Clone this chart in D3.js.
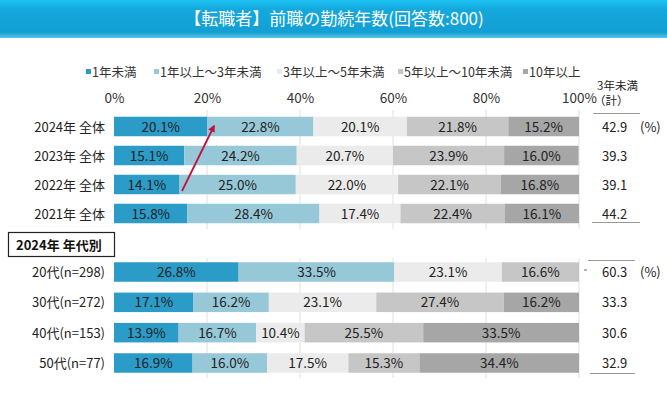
<!DOCTYPE html>
<html>
<head>
<meta charset="utf-8">
<script src="https://cdn.jsdelivr.net/npm/d3@7"></script>
<style>
  body { margin: 0; background: #fff; }
  svg { display: block; font-family: "Noto Sans CJK JP", "Noto Sans", sans-serif; }
</style>
</head>
<body>
<svg width="667" height="394"></svg>
<script>
const title = "【転職者】前職の勤続年数(回答数:800)";
const seriesNames = ["1年未満", "1年以上～3年未満", "3年以上～5年未満", "5年以上～10年未満", "10年以上"];
const colors = ["#2b9bc8", "#97c8d8", "#ebebeb", "#c6c6c6", "#a6a6a6"];

const yearRows = ["2024年 全体", "2023年 全体", "2022年 全体", "2021年 全体"];
const yearValues = [
  [20.1, 22.8, 20.1, 21.8, 15.2],
  [15.1, 24.2, 20.7, 23.9, 16.0],
  [14.1, 25.0, 22.0, 22.1, 16.8],
  [15.8, 28.4, 17.4, 22.4, 16.1]
];
const yearTotals = ["42.9", "39.3", "39.1", "44.2"];

const ageRows = ["20代(n=298)", "30代(n=272)", "40代(n=153)", "50代(n=77)"];
const ageValues = [
  [26.8, 33.5, 23.1, 16.6, 0],
  [17.1, 16.2, 23.1, 27.4, 16.2],
  [13.9, 16.7, 10.4, 25.5, 33.5],
  [16.9, 16.0, 17.5, 15.3, 34.4]
];
const ageTotals = ["60.3", "33.3", "30.6", "32.9"];
const ticks = [0, 20, 40, 60, 80, 100];

const svg = d3.select("svg");

// title band
const defs = svg.append("defs");
const grad = defs.append("linearGradient").attr("id", "band").attr("x1", 0).attr("x2", 0).attr("y1", 0).attr("y2", 1);
grad.append("stop").attr("offset", "0%").attr("stop-color", "#1ec3f3");
grad.append("stop").attr("offset", "25%").attr("stop-color", "#14a8dc");
grad.append("stop").attr("offset", "85%").attr("stop-color", "#139fd3");
grad.append("stop").attr("offset", "100%").attr("stop-color", "#5cc6ea");
svg.append("rect").attr("x", 0).attr("y", 0).attr("width", 667).attr("height", 38).attr("fill", "url(#band)");
svg.append("text").attr("x", 334).attr("y", 25).attr("text-anchor", "middle")
  .attr("fill", "#fff").attr("font-size", 17).text(title);

const x = d3.scaleLinear().domain([0, 100]).range([114, 579]);
const yTop = d3.scalePoint().domain(yearRows).range([126.5, 213.5]);
const yAge = d3.scalePoint().domain(ageRows).range([272, 363]);
const barH = 19.5;

// legend
const legendX = [86, 154, 277, 398, 523];
const lg = svg.append("g").selectAll("g").data(seriesNames).join("g")
  .attr("transform", (d, i) => `translate(${legendX[i]},72)`);
lg.append("rect").attr("x", 0).attr("y", -3).attr("width", 5).attr("height", 5)
  .attr("fill", (d, i) => colors[i]);
lg.append("text").attr("x", 6).attr("y", 4.5).attr("font-size", 12.5).attr("fill", "#333").text(d => d);

// axis labels on top
const axis = d3.axisTop(x).tickValues(ticks).tickFormat(d => d + "%").tickSize(0);
const ax = svg.append("g").attr("transform", "translate(0,106)").call(axis);
ax.select(".domain").remove();
ax.selectAll("text").attr("font-size", 13.5).attr("fill", "#333")
  .attr("font-family", "'Noto Sans CJK JP', sans-serif");

// gridlines
const grid = svg.append("g");
[[110, 229], [258, 378]].forEach(([a, b]) => {
  grid.selectAll(null).data(ticks.slice(1)).join("line")
    .attr("x1", d => x(d)).attr("x2", d => x(d)).attr("y1", a).attr("y2", b)
    .attr("stroke", "#e6dede").attr("stroke-width", 1);
});

function drawGroup(rows, values, y) {
  const g = svg.append("g");
  rows.forEach((row, ri) => {
    const stack = [];
    let acc = 0;
    values[ri].forEach((v, si) => { stack.push({ v, si, x0: acc, x1: acc + v }); acc += v; });
    const rg = g.append("g");
    rg.selectAll("rect").data(stack.filter(s => s.v > 0)).join("rect")
      .attr("x", s => x(s.x0)).attr("width", s => x(Math.min(s.x1, 100)) - x(s.x0))
      .attr("y", y(row) - barH / 2).attr("height", barH)
      .attr("fill", s => colors[s.si]);
    rg.selectAll("text").data(stack.filter(s => s.v > 0)).join("text")
      .attr("x", s => (x(s.x0) + x(Math.min(s.x1, 100))) / 2).attr("y", y(row) + 5)
      .attr("text-anchor", "middle").attr("font-size", 13.5).attr("fill", "#222")
      .text(s => s.v.toFixed(1) + "%");
    g.append("text").attr("x", 105).attr("y", y(row) + 5).attr("text-anchor", "end")
      .attr("font-size", 13).attr("fill", "#222").text(row);
  });
}
drawGroup(yearRows, yearValues, yTop);
drawGroup(ageRows, ageValues, yAge);

// section box
svg.append("rect").attr("x", 8.5).attr("y", 232.5).attr("width", 106).attr("height", 24)
  .attr("fill", "#fff").attr("stroke", "#222").attr("stroke-width", 1.2);
svg.append("text").attr("x", 16).attr("y", 249.5).attr("font-size", 13).attr("font-weight", "bold")
  .attr("fill", "#111").text("2024年 年代別");

// right column totals
const rc = svg.append("g").attr("font-size", 13).attr("fill", "#222");
rc.append("text").attr("x", 597).attr("y", 90).attr("font-size", 11.5).text("3年未満");
rc.append("text").attr("x", 594).attr("y", 104.5).attr("font-size", 11.5).text("（計）");
[[593, 640, 113.5], [592, 640, 222.5], [588, 635, 260.5], [590, 635, 373.5]].forEach(([a, b, yy]) => {
  rc.append("line").attr("x1", a).attr("x2", b).attr("y1", yy).attr("y2", yy)
    .attr("stroke", "#999").attr("stroke-width", 1);
});
rc.selectAll(".t1").data(yearRows).join("text").attr("class", "t1")
  .attr("x", 602).attr("y", d => yTop(d) + 5).text((d, i) => yearTotals[i]);
rc.selectAll(".t2").data(ageRows).join("text").attr("class", "t2")
  .attr("x", 602).attr("y", d => yAge(d) + 5).text((d, i) => ageTotals[i]);
rc.append("text").attr("x", 640).attr("y", yTop(yearRows[0]) + 5).text("(%)");
rc.append("text").attr("x", 640).attr("y", yAge(ageRows[0]) + 5).text("(%)");
rc.append("line").attr("x1", 584).attr("x2", 587).attr("y1", 270).attr("y2", 270).attr("stroke", "#666");

// red arrow
defs.append("marker").attr("id", "ah").attr("viewBox", "0 0 10 10").attr("refX", 8).attr("refY", 5)
  .attr("markerWidth", 4).attr("markerHeight", 4).attr("orient", "auto")
  .append("path").attr("d", "M0,0L10,5L0,10z").attr("fill", "#c0143c");
svg.append("line").attr("x1", 182).attr("y1", 191).attr("x2", 214).attr("y2", 126)
  .attr("stroke", "#c0143c").attr("stroke-width", 1.8).attr("marker-end", "url(#ah)");
</script>
</body>
</html>
